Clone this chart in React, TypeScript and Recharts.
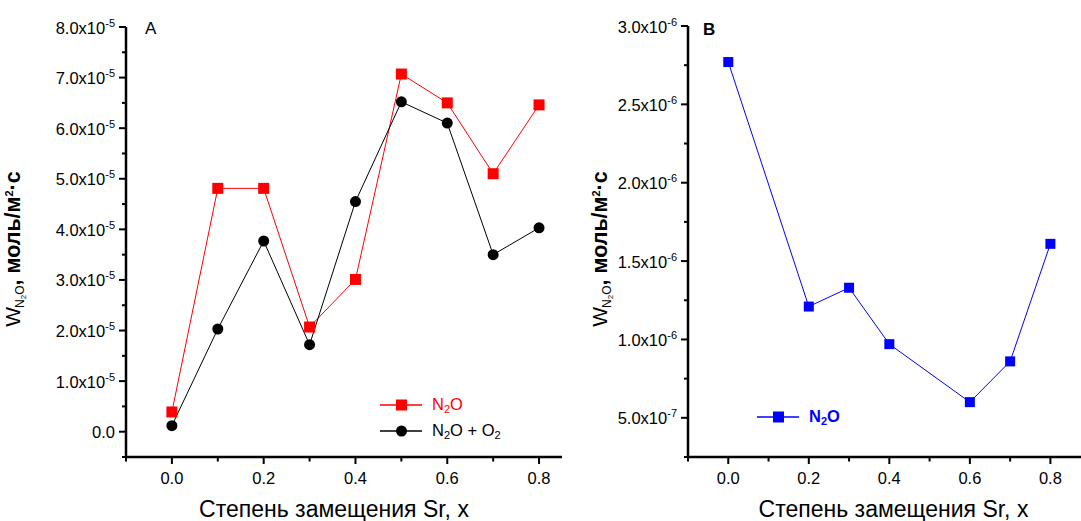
import { LineChart, Line, XAxis, YAxis } from "recharts";

// Степень замещения Sr, x
const X_A = [0, 0.1, 0.2, 0.3, 0.4, 0.5, 0.6, 0.7, 0.8];
// W(N2O), units of 1e-5 моль/м²·с
const N2O_A = [0.39, 4.81, 4.81, 2.07, 3.01, 7.07, 6.5, 5.1, 6.46];
const N2O_O2_A = [0.12, 2.03, 3.77, 1.72, 4.55, 6.52, 6.1, 3.5, 4.03];

const X_B = [0, 0.2, 0.3, 0.4, 0.6, 0.7, 0.8];
// W(N2O), units of 1e-6 моль/м²·с
const N2O_B = [2.77, 1.21, 1.33, 0.97, 0.6, 0.86, 1.61];

const X_TICKS = [-0.1, 0, 0.1, 0.2, 0.3, 0.4, 0.5, 0.6, 0.7, 0.8];
const Y_TICKS_A = [-0.5, 0, 0.5, 1, 1.5, 2, 2.5, 3, 3.5, 4, 4.5, 5, 5.5, 6, 6.5, 7, 7.5, 8];
const Y_TICKS_B = [0.25, 0.5, 0.75, 1, 1.25, 1.5, 1.75, 2, 2.25, 2.5, 2.75, 3];

const FONT = "'Liberation Sans', Arial, sans-serif";

const dataA = X_A.map((x, i) => ({ x, n2o: N2O_A[i], n2oO2: N2O_O2_A[i] }));
const dataB = X_B.map((x, i) => ({ x, n2o: N2O_B[i] }));

function xTick(props: any) {
  const { x, y, payload } = props;
  const v = payload.value;
  const major = v >= 0 && Math.round(v * 10) % 2 === 0;
  return (
    <g>
      <line x1={x} x2={x} y1={y} y2={y + (major ? 7 : 4.5)} stroke="#000" strokeWidth={2} />
      {major && (
        <text x={x} y={y + 27} textAnchor="middle" fontSize={16.5} fontFamily={FONT} fill="#000">
          {v.toFixed(1)}
        </text>
      )}
    </g>
  );
}

function makeYTick(unit: number, step: number) {
  return (props: any) => {
    const { x, y, payload } = props;
    const v = payload.value;
    const major = Math.abs(v / step - Math.round(v / step)) < 1e-6 && v >= 0;
    let label: any = null;
    if (major) {
      if (v === 0) {
        label = "0.0";
      } else {
        const [m, e] = (v * unit).toExponential(1).split("e");
        label = (
          <>
            {m}x10
            <tspan dy={-7} fontSize={11}>{e}</tspan>
          </>
        );
      }
    }
    return (
      <g>
        <line x1={x} x2={x - (major ? 7 : 4)} y1={y} y2={y} stroke="#000" strokeWidth={2} />
        {major && (
          <text x={x - 11} y={y + 6.5} textAnchor="end" fontSize={16.5} fontFamily={FONT} fill="#000">
            {label}
          </text>
        )}
      </g>
    );
  };
}

function yLabel(baseX: number) {
  return (props: any) => {
    const { viewBox } = props;
    const cx = viewBox.x + baseX;
    const cy = 249;
    return (
      <text
        x={cx}
        y={cy}
        transform={`rotate(-90, ${cx}, ${cy})`}
        textAnchor="middle"
        fontFamily={FONT}
        fill="#000"
        fontSize={21.5}
      >
        <tspan fontSize={21}>W</tspan>
        <tspan fontSize={12} dy={4} dx={-1}>N</tspan>
        <tspan fontSize={8} dy={2}>2</tspan>
        <tspan fontSize={12} dy={-2}>O</tspan>
        <tspan dy={-4} fontWeight="bold">, моль/м</tspan>
        <tspan fontSize={11} dy={-7} fontWeight="bold">2</tspan>
        <tspan dy={7} fontWeight="bold">·с</tspan>
      </text>
    );
  };
}

function xLabel(shift: number) {
  return (props: any) => {
    const { viewBox } = props;
    return (
      <text
        x={viewBox.x + viewBox.width / 2 + shift}
        y={517}
        textAnchor="middle"
        fontFamily={FONT}
        fontSize={23}
        fill="#000"
      >
        Степень замещения Sr, x
      </text>
    );
  };
}

const square = (size: number, color: string) => (p: any) =>
  p.cx == null ? <g key={p.key} /> : (
    <rect key={p.key} x={p.cx - size / 2} y={p.cy - size / 2} width={size} height={size} fill={color} />
  );
const circle = (r: number, color: string) => (p: any) =>
  p.cx == null ? <g key={p.key} /> : <circle key={p.key} cx={p.cx} cy={p.cy} r={r} fill={color} />;

function LegendRow({ color, marker, label, bold }: any) {
  return (
    <div style={{ display: "flex", alignItems: "center", height: 26 }}>
      <svg width={52} height={14}>
        <line x1={0} x2={42} y1={7} y2={7} stroke={color} strokeWidth={1.5} />
        {marker === "square" ? (
          <rect x={16} y={1.5} width={11} height={11} fill={color} />
        ) : (
          <circle cx={21.5} cy={7} r={5.5} fill={color} />
        )}
      </svg>
      <span style={{ color, fontWeight: bold ? "bold" : "normal", fontSize: 16.5, fontFamily: FONT }}>
        {label}
      </span>
    </div>
  );
}

const sub = (t: string) => <sub style={{ fontSize: 11, verticalAlign: -3 }}>{t}</sub>;

export default function App() {
  return (
    <div style={{ position: "fixed", left: 0, top: 0, width: 1081, height: 521, background: "#fff", overflow: "hidden" }}>
      <div style={{ position: "absolute", left: 0, top: 0 }}>
        <LineChart width={575} height={521} data={dataA} margin={{ top: 27, right: 13, bottom: 0, left: 0 }}>
          <XAxis
            dataKey="x"
            type="number"
            domain={[-0.1, 0.85]}
            ticks={X_TICKS}
            interval={0}
            height={64}
            tickSize={0}
            tickMargin={0}
            tickLine={false}
            axisLine={{ stroke: "#000", strokeWidth: 2.5 }}
            tick={xTick}
            allowDataOverflow
            label={{ content: xLabel(-10) }}
          />
          <YAxis
            type="number"
            domain={[-0.5, 8]}
            ticks={Y_TICKS_A}
            interval={0}
            width={126}
            tickSize={0}
            tickMargin={0}
            tickLine={false}
            axisLine={{ stroke: "#000", strokeWidth: 2.5 }}
            tick={makeYTick(1e-5, 1)}
            allowDataOverflow
            label={{ content: yLabel(19.5) }}
          />
          <Line dataKey="n2o" stroke="#ff0000" strokeWidth={1} dot={square(11, "#ff0000")} isAnimationActive={false} />
          <Line dataKey="n2oO2" stroke="#000" strokeWidth={1} dot={circle(5.5, "#000")} isAnimationActive={false} />
        </LineChart>
        <div style={{ position: "absolute", left: 145, top: 19, fontFamily: FONT, fontSize: 17 }}>A</div>
        <div style={{ position: "absolute", left: 380, top: 392 }}>
          <LegendRow color="#ff0000" marker="square" label={<>N{sub("2")}O</>} />
          <LegendRow color="#000" marker="circle" label={<>N{sub("2")}O + O{sub("2")}</>} />
        </div>
      </div>

      <div style={{ position: "absolute", left: 560, top: 0 }}>
        <LineChart width={521} height={521} data={dataB} margin={{ top: 26, right: 0, bottom: 0, left: 0 }}>
          <XAxis
            dataKey="x"
            type="number"
            domain={[-0.1, 0.876]}
            ticks={X_TICKS}
            interval={0}
            height={64}
            tickSize={0}
            tickMargin={0}
            tickLine={false}
            axisLine={{ stroke: "#000", strokeWidth: 2.5 }}
            tick={xTick}
            allowDataOverflow
            label={{ content: xLabel(9) }}
          />
          <YAxis
            type="number"
            domain={[0.25, 3]}
            ticks={Y_TICKS_B}
            interval={0}
            width={128}
            tickSize={0}
            tickMargin={0}
            tickLine={false}
            axisLine={{ stroke: "#000", strokeWidth: 2.5 }}
            tick={makeYTick(1e-6, 0.5)}
            allowDataOverflow
            label={{ content: yLabel(47) }}
          />
          <Line dataKey="n2o" stroke="#0000ff" strokeWidth={1} dot={square(10, "#0000ff")} isAnimationActive={false} />
        </LineChart>
        <div style={{ position: "absolute", left: 143, top: 20, fontFamily: FONT, fontSize: 17, fontWeight: "bold" }}>B</div>
        <div style={{ position: "absolute", left: 197, top: 404 }}>
          <LegendRow color="#0000ff" marker="square" label={<>N{sub("2")}O</>} bold />
        </div>
      </div>
    </div>
  );
}
